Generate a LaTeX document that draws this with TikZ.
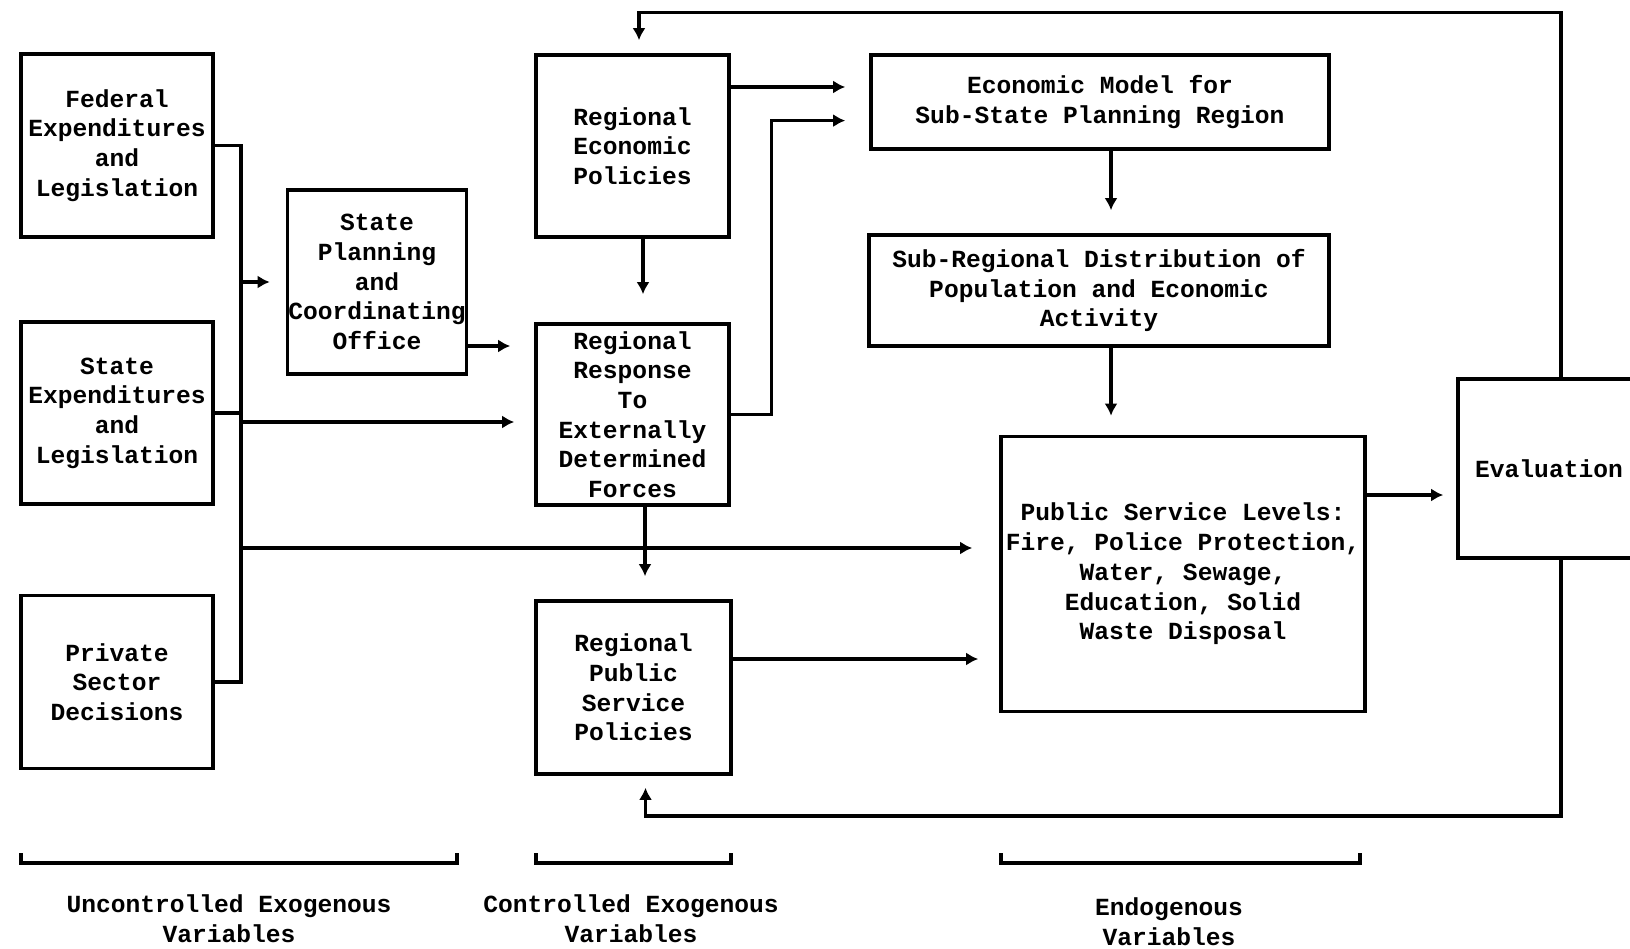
\documentclass[tikz,border=0pt]{standalone}
\usepackage{fontspec}
\setmainfont{Liberation Mono}
\usetikzlibrary{arrows.meta,calc}
\newcommand{\twfont}{\fontsize{24.6pt}{29.7pt}\selectfont\bfseries}
\begin{document}
\begin{tikzpicture}[x=1pt,y=-1pt,
  box/.style={draw, line width=3.6pt, inner sep=0pt, align=center, font=\twfont},
  conn/.style={line width=3.2pt},
  arr/.style={line width=3.2pt, -{Latex[length=12pt,width=13pt]}},
  brk/.style={line width=3.2pt},
  lbl/.style={align=center, inner sep=0pt, font=\twfont}]
\useasboundingbox (0,0) rectangle (1630,949);
% left column
\node[box, minimum width=192, minimum height=183] (fed) at (117,145.5) {Federal\\Expenditures\\and\\Legislation};
\node[box, minimum width=192, minimum height=182] (state) at (117,413) {State\\Expenditures\\and\\Legislation};
\node[box, minimum width=192, minimum height=173] (priv) at (117,682) {Private\\Sector\\Decisions};
\node[box, minimum width=179, minimum height=184] (sp) at (377,282) {State\\Planning\\and\\Coordinating\\Office};
% middle column
\node[box, minimum width=193, minimum height=182] (rep) at (632.5,146) {Regional\\Economic\\Policies};
\node[box, minimum width=193, minimum height=181] (rr) at (632.5,414.5) {Regional\\Response\\To\\Externally\\Determined\\Forces};
\node[box, minimum width=195, minimum height=173] (rpsp) at (633.5,687.5) {Regional\\Public\\Service\\Policies};
% right part
\node[box, minimum width=458, minimum height=94] (econ) at (1100,102) {Economic Model for\\Sub-State Planning Region};
\node[box, minimum width=460, minimum height=111] (sub) at (1099,290.5) {Sub-Regional Distribution of\\Population and Economic\\Activity};
\node[box, minimum width=364, minimum height=275] (psl) at (1183,574) {Public Service Levels:\\Fire, Police Protection,\\Water, Sewage,\\Education, Solid\\Waste Disposal};
\node[box, minimum width=182, minimum height=179] (eval) at (1549,468.5) {Evaluation};
% bus of the uncontrolled variables
\coordinate (bus) at (241,0);
\coordinate (fbx) at (1561,0);
\draw[conn] (fed.east) -| (bus |- priv.east) -- (priv.east);
\draw[conn] (state.east) -- (bus |- state.east);
\draw[arr, shorten >=16pt] (bus |- sp.west) -- (sp.west);
\draw[arr, shorten >=20pt] (bus |- 0,422) -- (rr.west |- 0,422);
\draw[arr, shorten >=27pt] (bus |- 0,548) -- (psl.west |- 0,548);
\draw[arr, shorten >=24pt] (sp.east |- 0,346) -- (rr.west |- 0,346);
% middle connectors
\draw[arr, shorten >=24pt] (rep.east |- 0,87) -- (econ.west |- 0,87);
\draw[arr, shorten >=24pt] (rr.east) -| ($(econ.west)+(-98,18.6)$) -- ($(econ.west)+(0,18.6)$);
\draw[arr, shorten >=28pt] (rep.south -| 643,0) -- (rr.north -| 643,0);
\draw[arr, shorten >=23pt] (rr.south -| 645,0) -- (rpsp.north -| 645,0);
\draw[arr, shorten >=21pt] (rpsp.east |- 0,659) -- (psl.west |- 0,659);
% right connectors
\draw[arr, shorten >=23pt] (econ.south -| 1111,0) -- (sub.north -| 1111,0);
\draw[arr, shorten >=19pt] (sub.south -| 1111,0) -- (psl.north -| 1111,0);
\draw[arr, shorten >=13pt] (psl.east |- 0,495) -- (eval.west |- 0,495);
% feedback loops
\draw[arr, shorten >=13pt] (fbx |- eval.north) |- ([xshift=6.5pt]rep.north |- 0,12.5) -- ([xshift=6.5pt]rep.north);
\draw[arr, shorten >=12pt] (fbx |- eval.south) |- ([xshift=12pt]rpsp.south |- 0,816) -- ([xshift=12pt]rpsp.south);
% brackets
\draw[brk] (21,853) -- (21,863) -- (457,863) -- (457,853);
\draw[brk] (536,853) -- (536,863) -- (731,863) -- (731,853);
\draw[brk] (1001,853) -- (1001,863) -- (1360,863) -- (1360,853);
\node[lbl] (unc) at (229,918.5) {Uncontrolled Exogenous\\Variables};
\node[lbl] (con) at (631,918.5) {Controlled Exogenous\\Variables};
\node[lbl] (endo) at (1169,921.5) {Endogenous\\Variables};
\end{tikzpicture}
\end{document}
